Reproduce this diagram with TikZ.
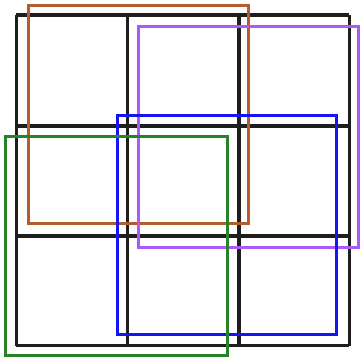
\documentclass[tikz,border=0pt]{standalone}
\definecolor{cbrown}{RGB}{180,92,45}
\definecolor{cpurple}{RGB}{170,90,250}
\definecolor{cblue}{RGB}{20,20,245}
\definecolor{cgreen}{RGB}{40,130,40}
\definecolor{cgrid}{RGB}{30,30,30}
\begin{document}
\begin{tikzpicture}[x=1pt,y=-1pt,
  gridline/.style={draw=cgrid,line width=3.2pt},
  frame/.style={line width=3pt}]
\useasboundingbox (0,0) rectangle (360,360);
\fill[white] (0,0) rectangle (360,360);
% grid
\foreach \x in {16.5,127.7,239,349.5}
  \draw[gridline] (\x,15) -- (\x,345.5);
\foreach \y in {15,126,236,345.5}
  \draw[gridline] (16.5,\y) -- (349.5,\y);
% overlapping squares
\draw[frame,draw=cbrown] (28.3,5) rectangle (248.3,223.3);
\draw[frame,draw=cpurple] (138.3,26.7) rectangle (358.3,247.7);
\draw[frame,draw=cblue] (117.3,115.7) rectangle (336.7,334.3);
\draw[frame,draw=cgreen] (6,136.7) rectangle (227.7,355.7);
\end{tikzpicture}
\end{document}
